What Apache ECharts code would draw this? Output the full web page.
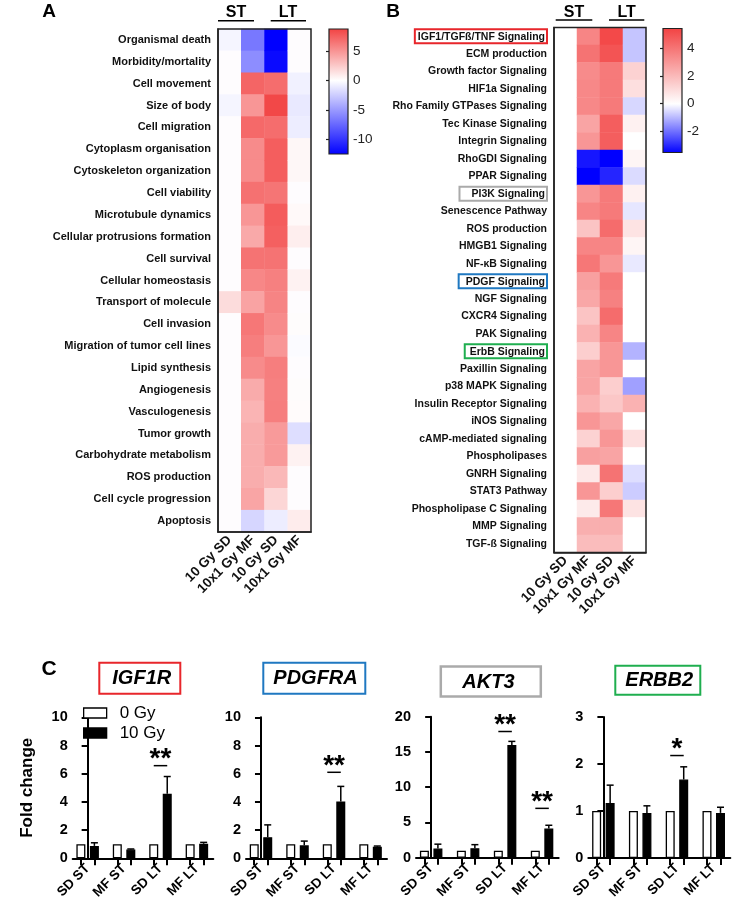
<!DOCTYPE html>
<html><head><meta charset="utf-8">
<script src="https://cdn.jsdelivr.net/npm/echarts@6/dist/echarts.min.js"></script>
<style>html,body{margin:0;padding:0;background:#fff}#c{width:756px;height:915px}</style>
</head><body><div id="c"></div>
<script>
// ================= DATA =================
const conditions = ['10 Gy SD', '10x1 Gy MF', '10 Gy SD', '10x1 Gy MF'];

// Panel A: disease & function terms (z-scores)
const termsA = ['Organismal death','Morbidity/mortality','Cell movement','Size of body','Cell migration',
  'Cytoplasm organisation','Cytoskeleton organization','Cell viability','Microtubule dynamics',
  'Cellular protrusions formation','Cell survival','Cellular homeostasis','Transport of molecule',
  'Cell invasion','Migration of tumor cell lines','Lipid synthesis','Angiogenesis','Vasculogenesis',
  'Tumor growth','Carbohydrate metabolism','ROS production','Cell cycle progression','Apoptosis'];
const a_SD_ST = [-0.5, 0, 0, -0.5, 0, 0, 0, 0, 0, 0, 0, 0, 1.6, 0, 0, 0, 0, 0, 0, 0, 0, 0, 0];
const a_MF_ST = [-6.6, -5.6, 7.2, 4.9, 7.0, 5.4, 5.4, 6.6, 4.9, 4.0, 6.5, 5.6, 4.3, 6.3, 6.0, 5.4, 3.9, 3.5, 3.8, 3.8, 3.8, 4.2, -2.0];
const a_SD_LT = [-12.5, -12.0, 6.8, 8.5, 6.8, 7.5, 7.5, 6.4, 7.6, 7.4, 6.5, 5.9, 5.7, 5.4, 4.9, 6.0, 5.9, 6.0, 4.7, 4.7, 3.3, 1.9, -0.9];
const a_MF_LT = [0, 0, -0.7, -1.1, -0.9, 0.4, 0.4, 0, 0.3, 0.8, 0, 0.6, 0, 0.1, -0.2, 0, 0.1, 0.2, -1.6, 0.6, 0, 0, 0.9];
const rangeA = [-12.5, 8.8];
const colorTicksA = [5, 0, -5, -10];

// Panel B: canonical pathways (z-scores)
const termsB = ['IGF1/TGFß/TNF Signaling','ECM production','Growth factor Signaling','HIF1a Signaling',
  'Rho Family GTPases Signaling','Tec Kinase Signaling','Integrin Signaling','RhoGDI Signaling','PPAR Signaling',
  'PI3K Signaling','Senescence Pathway','ROS production','HMGB1 Signaling','NF-κB Signaling','PDGF Signaling',
  'NGF Signaling','CXCR4 Signaling','PAK Signaling','ErbB Signaling','Paxillin Signaling','p38 MAPK Signaling',
  'Insulin Receptor Signaling','iNOS Signaling','cAMP-mediated signaling','Phospholipases','GNRH Signaling',
  'STAT3 Pathway','Phospholipase C Signaling','MMP Signaling','TGF-ß Signaling'];
const b_SD_ST = [0,0,0,0,0,0,0,0,0,0,0,0,0,0,0,0,0,0,0,0,0,0,0,0,0,0,0,0,0,0];
const b_MF_ST = [3.5, 4.0, 3.3, 3.4, 3.4, 2.6, 3.0, -3.2, -3.5, 3.0, 3.5, 1.7, 3.5, 3.9, 2.7, 2.5, 1.7, 2.2, 1.4, 2.6, 2.6, 2.2, 3.0, 1.3, 2.7, 0.65, 3.0, 0.6, 2.3, 1.9];
const b_SD_LT = [5.2, 4.9, 3.8, 3.8, 3.8, 4.6, 4.6, -3.5, -3.0, 3.8, 3.8, 4.2, 3.5, 3.0, 3.8, 3.6, 4.2, 3.5, 3.0, 3.0, 1.4, 1.6, 2.5, 3.0, 2.6, 4.0, 1.4, 3.9, 2.3, 1.9];
const b_MF_LT = [-0.8, -0.8, 1.3, 0.9, -0.55, 0.4, 0, 0.3, -0.5, 0.4, -0.35, 0.8, 0.3, -0.3, 0, 0, 0, 0, -1.05, 0, -1.3, 2.2, 0, 0.9, 0, -0.45, -0.7, 0.8, 0, 0];
const rangeB = [-3.5, 5.4];
const colorTicksB = [4, 2, 0, -2];

// Panel C: qPCR fold change
const groups = ['SD ST', 'MF ST', 'SD LT', 'MF LT'];
const genes = ['IGF1R', 'PDGFRA', 'AKT3', 'ERBB2'];
const ctrl_IGF1R = [1, 1, 1, 1];
const irr_IGF1R = [0.88, 0.62, 4.58, 1.03];
const err_IGF1R = [0.22, 0.04, 1.22, 0.10];
const ctrl_PDGFRA = [1, 1, 1, 1];
const irr_PDGFRA = [1.50, 0.92, 4.02, 0.82];
const err_PDGFRA = [0.87, 0.30, 1.08, 0.05];
const ctrl_AKT3 = [1, 1, 1, 1];
const irr_AKT3 = [1.30, 1.35, 16.0, 4.15];
const err_AKT3 = [0.62, 0.50, 0.50, 0.45];
const ctrl_ERBB2 = [1, 1, 1, 1];
const irr_ERBB2 = [1.17, 0.96, 1.67, 0.96];
const err_ERBB2 = [0.38, 0.15, 0.27, 0.12];
const yMax = [10, 10, 20, 3];
const yStep = [2, 2, 5, 1];
// significance: [group index, y of bar line, label]
const sig_IGF1R = [[2, 6.57, '**']];
const sig_PDGFRA = [[2, 6.1, '**']];
const sig_AKT3 = [[2, 17.9, '**'], [3, 7.0, '**']];
const sig_ERBB2 = [[2, 2.18, '*']];

// ================= STYLE / LAYOUT =================
const FONT = '"Liberation Sans", Arial, sans-serif';
const RED = [242, 66, 66], BLUE = [0, 0, 255], WHITE = [255, 255, 255];
function mix(a, b, t) { return 'rgb(' + a.map((v, i) => Math.round(v + (b[i] - v) * t)).join(',') + ')'; }
function divergingColors(min, max, n) {
  const out = [];
  for (let i = 0; i < n; i++) {
    const v = min + (max - min) * i / (n - 1);
    out.push(v >= 0 ? mix(WHITE, RED, v / max) : mix(WHITE, BLUE, v / min));
  }
  return out;
}
function gradient(min, max) {
  const z = max / (max - min);
  return new echarts.graphic.LinearGradient(0, 0, 0, 1, [
    { offset: 0, color: mix(WHITE, RED, 1) },
    { offset: z, color: '#ffffff' },
    { offset: 1, color: mix(WHITE, BLUE, 1) }
  ]);
}
function heatData(cols) {
  const d = [];
  cols.forEach((col, x) => col.forEach((v, y) => d.push([x, y, v])));
  return d;
}

const hA = { left: 218, top: 29, width: 93, height: 503 };
const hB = { left: 554, top: 27.5, width: 92, height: 525 };
const cbA = { left: 329, top: 29, width: 19, height: 125 };
const cbB = { left: 663, top: 28.5, width: 19, height: 124 };
const barGrids = [
  { left: 72.7, top: 717.3, width: 140.6, height: 141 },
  { left: 246, top: 717.3, width: 141, height: 141 },
  { left: 416, top: 716.7, width: 142.7, height: 141 },
  { left: 588.3, top: 717, width: 142, height: 141 }
];
const XMIN = -0.41, XMAX = 3.45;
const BW = 9, GAP = 0.5;
const OFF = (BW + BW * GAP) / 2;

const grid = [hA, cbA, hB, cbB].map(g => Object.assign({ containLabel: false }, g));
grid[1] = Object.assign({}, cbA, { show: true, backgroundColor: gradient(rangeA[0], rangeA[1]), borderColor: '#222', borderWidth: 1.2 });
grid[3] = Object.assign({}, cbB, { show: true, backgroundColor: gradient(rangeB[0], rangeB[1]), borderColor: '#222', borderWidth: 1.2 });
barGrids.forEach(g => grid.push(Object.assign({}, g)));

const xAxis = [], yAxis = [];
function heatX(gi) {
  return { gridIndex: gi, type: 'category', data: conditions, position: 'bottom', z: 10,
    axisLine: { lineStyle: { color: '#222', width: 1.5 } }, axisTick: { show: false },
    axisLabel: { interval: 0, hideOverlap: false, rotate: 45, margin: 6, fontSize: 13.5, fontWeight: 'bold', color: '#111', fontFamily: FONT } };
}
function heatY(gi, terms, fs, extra) {
  return Object.assign({ gridIndex: gi, type: 'category', data: terms, inverse: true, z: 10,
    axisLine: { lineStyle: { color: '#222', width: 1.5 } },
    axisTick: { alignWithLabel: true, length: 4, lineStyle: { color: '#222', width: 1.2 } },
    axisLabel: { margin: 7, fontSize: fs, fontWeight: 'bold', color: '#111', fontFamily: FONT, interval: 0 } }, extra || {});
}
function cbY(gi, range, ticks) {
  return { gridIndex: gi, type: 'value', min: range[0], max: range[1], position: 'right',
    axisLine: { show: false }, splitLine: { show: false },
    axisTick: { show: true, inside: true, length: 3, customValues: ticks, lineStyle: { color: '#222', width: 1.2 } },
    axisLabel: { customValues: ticks, margin: 5, fontSize: 13.5, color: '#222', fontFamily: FONT } };
}
const hiB = { 'IGF1/TGFß/TNF Signaling': 'r', 'PI3K Signaling': 'g', 'PDGF Signaling': 'b', 'ErbB Signaling': 'e' };
const richBase = { fontSize: 10.5, fontWeight: 'bold', color: '#111', fontFamily: FONT, borderWidth: 2 };

xAxis.push(heatX(0));
yAxis.push(heatY(0, termsA, 11));
xAxis.push({ gridIndex: 1, type: 'value', show: false });
yAxis.push(cbY(1, rangeA, colorTicksA));
xAxis.push(heatX(2));
const yB = heatY(2, termsB, 10.5);
yB.axisLabel.formatter = v => hiB[v] ? '{' + hiB[v] + '|' + v + '}' : v;
yB.axisLabel.rich = {
  r: Object.assign({}, richBase, { borderColor: '#e8262b', padding: [2, 2, 1, 3] }),
  g: Object.assign({}, richBase, { borderColor: '#aaaaaa', padding: [2, 2, 1, 12] }),
  b: Object.assign({}, richBase, { borderColor: '#1f78c1', padding: [2, 2, 1, 7] }),
  e: Object.assign({}, richBase, { borderColor: '#1fae4f', padding: [2, 2, 1, 5] })
};
yAxis.push(yB);
xAxis.push({ gridIndex: 3, type: 'value', show: false });
yAxis.push(cbY(3, rangeB, colorTicksB));

const series = [
  { type: 'heatmap', xAxisIndex: 0, yAxisIndex: 0, data: heatData([a_SD_ST, a_MF_ST, a_SD_LT, a_MF_LT]), itemStyle: { borderWidth: 0 } },
  { type: 'heatmap', xAxisIndex: 2, yAxisIndex: 2, data: heatData([b_SD_ST, b_MF_ST, b_SD_LT, b_MF_LT]), itemStyle: { borderWidth: 0 } }
];

const ctrls = [ctrl_IGF1R, ctrl_PDGFRA, ctrl_AKT3, ctrl_ERBB2];
const irrs = [irr_IGF1R, irr_PDGFRA, irr_AKT3, irr_ERBB2];
const errs = [err_IGF1R, err_PDGFRA, err_AKT3, err_ERBB2];
const sigs = [sig_IGF1R, sig_PDGFRA, sig_AKT3, sig_ERBB2];

barGrids.forEach((g, k) => {
  const gi = 4 + k;
  const pxPerUnit = g.width / (XMAX - XMIN);
  const d = OFF / pxPerUnit;
  const tickVals = [];
  groups.forEach((_, i) => { tickVals.push(i - d, i + d); });
  xAxis.push({ gridIndex: gi, type: 'value', min: XMIN, max: XMAX, splitLine: { show: false },
    axisLine: { onZero: false, lineStyle: { color: '#000', width: 2 } },
    axisTick: { customValues: tickVals, length: 7, lineStyle: { color: '#000', width: 2 } },
    axisLabel: { customValues: groups.map((_, i) => i), formatter: v => groups[Math.round(v)], rotate: 45, margin: 8,
      fontSize: 13.5, fontWeight: 'bold', color: '#000', fontFamily: FONT } });
  const ya = { gridIndex: gi, type: 'value', min: 0, max: yMax[k], interval: yStep[k], splitLine: { show: false },
    axisLine: { show: true, lineStyle: { color: '#000', width: 2 } },
    axisTick: { show: true, length: 6, lineStyle: { color: '#000', width: 2 } },
    axisLabel: { margin: 5, fontSize: 14.5, fontWeight: 'bold', color: '#000', fontFamily: FONT } };
  if (k === 0) Object.assign(ya, { name: 'Fold change', nameLocation: 'middle', nameRotate: 90, nameGap: 37,
    nameTextStyle: { fontSize: 17, fontWeight: 'bold', color: '#000', fontFamily: FONT } });
  yAxis.push(ya);
  series.push({ name: '0 Gy', type: 'bar', xAxisIndex: gi, yAxisIndex: gi, barWidth: BW, barGap: (GAP * 100) + '%',
    data: ctrls[k].map((v, i) => [i, v]), itemStyle: { color: '#fff', borderColor: '#000', borderWidth: 1.3 } });
  series.push({ name: '10 Gy', type: 'bar', xAxisIndex: gi, yAxisIndex: gi, barWidth: BW, barGap: (GAP * 100) + '%',
    data: irrs[k].map((v, i) => [i, v]), itemStyle: { color: '#000', borderColor: '#000', borderWidth: 1.3 } });
  series.push({ type: 'custom', xAxisIndex: gi, yAxisIndex: gi, z: 5,
    data: irrs[k].map((v, i) => [i, v, v + errs[k][i]]), encode: { x: 0, y: [1, 2] },
    renderItem: (params, api) => {
      const p0 = api.coord([api.value(0), api.value(1)]);
      const p1 = api.coord([api.value(0), api.value(2)]);
      const x = p0[0] + OFF;
      return { type: 'group', children: [
        { type: 'line', shape: { x1: x, y1: p0[1], x2: x, y2: p1[1] }, style: { stroke: '#000', lineWidth: 1.5 } },
        { type: 'line', shape: { x1: x - 3.5, y1: p1[1], x2: x + 3.5, y2: p1[1] }, style: { stroke: '#000', lineWidth: 1.5 } }
      ] };
    } });
  series.push({ type: 'custom', xAxisIndex: gi, yAxisIndex: gi, z: 6,
    data: sigs[k], encode: { x: 0, y: 1 },
    renderItem: (params, api) => {
      const p = api.coord([api.value(0), api.value(1)]);
      const txt = sigs[k][params.dataIndex][2];
      return { type: 'group', children: [
        { type: 'line', shape: { x1: p[0] - OFF, y1: p[1], x2: p[0] + OFF, y2: p[1] }, style: { stroke: '#000', lineWidth: 1.5 } },
        { type: 'text', x: p[0], y: p[1] - 6, style: { text: txt, font: 'bold 28px ' + FONT, fill: '#000',
          align: 'center', verticalAlign: 'middle', textAlign: 'center', textVerticalAlign: 'middle' } }
      ] };
    } });
});

const boxColors = ['#e8262b', '#1f78c1', '#aaaaaa', '#1fae4f'];
const titlePads = [[6, 9, 5, 13], [6, 8, 5, 10], [6, 27, 5, 22], [5, 7, 4, 10]];
const titleLefts = [99.3, 263.3, 440.3, 615.3];
const titleTops = [662.7, 662.7, 666, 665.7];
const title = genes.map((gname, k) => ({ text: gname, left: titleLefts[k], top: titleTops[k], padding: titlePads[k],
  borderColor: boxColors[k], borderWidth: k === 2 ? 2.5 : 2,
  textStyle: { fontSize: 20, fontWeight: 'bold', fontStyle: 'italic', color: '#000', fontFamily: FONT } }));

function txt(t, x, y, size, align) {
  return { type: 'text', x: x, y: y, z: 100, style: { text: t, font: 'bold ' + size + 'px ' + FONT, fill: '#000', align: align || 'center', verticalAlign: 'middle' } };
}
function hline(x1, x2, y) {
  return { type: 'line', z: 100, shape: { x1: x1, y1: y, x2: x2, y2: y }, style: { stroke: '#000', lineWidth: 1.6 } };
}
function frame(g) {
  return { type: 'rect', z: 100, shape: { x: g.left, y: g.top, width: g.width, height: g.height }, style: { fill: 'none', stroke: '#222', lineWidth: 1.5 } };
}
const graphic = [
  txt('A', 49, 12, 19), txt('B', 393, 12, 19), txt('C', 49, 669, 21),
  txt('ST', 236, 13, 16), hline(218, 254, 20.7), txt('LT', 288, 13, 16), hline(270.7, 306, 20.7),
  txt('ST', 574, 12.5, 16), hline(555.7, 592.3, 20), txt('LT', 626.7, 12.5, 16), hline(609, 644.3, 20),
  frame(hA), frame(hB)
];

const option = {
  backgroundColor: '#fff',
  animation: false,
  title: title,
  grid: grid, xAxis: xAxis, yAxis: yAxis, series: series, graphic: graphic,
  visualMap: [
    { show: false, seriesIndex: 0, min: rangeA[0], max: rangeA[1], calculable: false, inRange: { color: divergingColors(rangeA[0], rangeA[1], 85) } },
    { show: false, seriesIndex: 1, min: rangeB[0], max: rangeB[1], calculable: false, inRange: { color: divergingColors(rangeB[0], rangeB[1], 85) } }
  ],
  legend: { data: ['0 Gy', '10 Gy'], orient: 'vertical', left: 83, top: 703, padding: 0, itemWidth: 23, itemHeight: 10, itemGap: 0,
    icon: 'rect', itemStyle: { borderColor: '#000', borderWidth: 1.3 },
    textStyle: { fontSize: 17, lineHeight: 20, color: '#000', fontFamily: FONT, padding: [0, 0, 0, 8] } }
};
const chart = echarts.init(document.getElementById('c'), null, { renderer: 'canvas' });
chart.setOption(option);
</script></body></html>
